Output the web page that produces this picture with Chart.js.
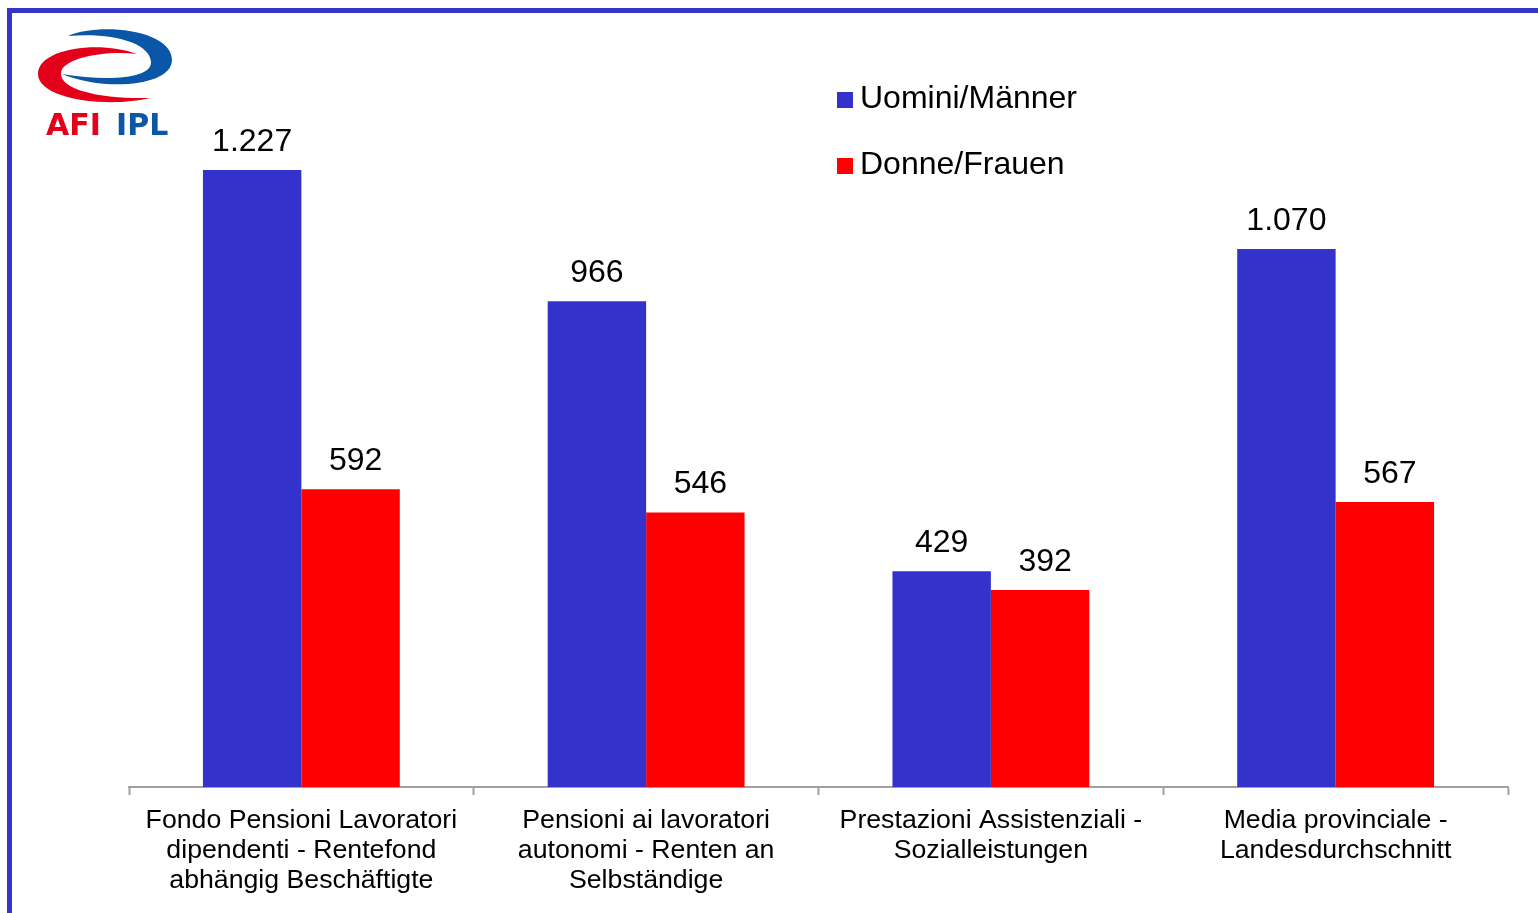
<!DOCTYPE html>
<html>
<head>
<meta charset="utf-8">
<script src="https://cdn.jsdelivr.net/npm/chart.js@4.4.0/dist/chart.umd.min.js"></script>
<style>
  html, body { margin: 0; padding: 0; background: #ffffff; overflow: hidden; }
  #wrap { position: relative; width: 1538px; height: 913px; }
  canvas { position: absolute; left: 0; top: 0; }
</style>
</head>
<body>
<div id="wrap"><canvas id="c" width="1538" height="913"></canvas></div>
<script>
// ---- DATA ----
const categories = [
  ["Fondo Pensioni Lavoratori", "dipendenti - Rentefond", "abhängig Beschäftigte"],
  ["Pensioni ai lavoratori", "autonomi - Renten an", "Selbständige"],
  ["Prestazioni Assistenziali -", "Sozialleistungen"],
  ["Media provinciale -", "Landesdurchschnitt"]
];
const seriesNames = ["Uomini/Männer", "Donne/Frauen"];
const menValues = [1227, 966, 429, 1070];
const womenValues = [592, 546, 392, 567];
const logoWords = ["AFI", "IPL"];

const BLUE = "#3333CC";
const RED = "#FF0000";
const FONT = "Arial, 'Liberation Sans', sans-serif";

function fmt(v) {
  const s = String(Math.round(v));
  return s.replace(/\B(?=(\d{3})+(?!\d))/g, ".");
}

const framePlugin = {
  id: "frame",
  beforeDraw(chart) {
    const ctx = chart.ctx;
    ctx.save();
    ctx.fillStyle = "#ffffff";
    ctx.fillRect(0, 0, chart.width, chart.height);
    ctx.fillStyle = "#3535CC";
    ctx.fillRect(7, 8, chart.width - 7, 5);
    ctx.fillRect(7, 8, 5, chart.height - 8);
    ctx.restore();
  },
  afterDraw(chart) {
    const ctx = chart.ctx;
    ctx.save();
    // logo swooshes
    ctx.fillStyle = "#E4001B";
    ctx.beginPath();
    ctx.moveTo(137, 54);
    ctx.bezierCurveTo(100, 40, 38, 48, 38, 74);
    ctx.bezierCurveTo(38, 100, 110, 108, 150, 98);
    ctx.bezierCurveTo(100, 99, 60, 90, 61, 73);
    ctx.bezierCurveTo(62, 58, 105, 50, 137, 54);
    ctx.closePath();
    ctx.fill();
    ctx.fillStyle = "#0B57A7";
    ctx.beginPath();
    ctx.moveTo(68, 36);
    ctx.bezierCurveTo(100, 22, 172, 30, 172, 60);
    ctx.bezierCurveTo(172, 86, 105, 92, 62, 74);
    ctx.bezierCurveTo(110, 82, 152, 78, 151, 62);
    ctx.bezierCurveTo(150, 42, 110, 32, 68, 36);
    ctx.closePath();
    ctx.fill();
    ctx.font = "bold 30px 'DejaVu Sans', sans-serif";
    ctx.textBaseline = "alphabetic";
    ctx.textAlign = "left";
    ctx.fillStyle = "#E4001B";
    ctx.fillText(logoWords[0], 46, 135);
    ctx.fillStyle = "#0B57A7";
    ctx.fillText(logoWords[1], 116, 135);

    // legend
    const items = chart.data.datasets;
    const rows = [108, 174];
    ctx.font = "32px " + FONT;
    items.forEach((ds, i) => {
      ctx.fillStyle = ds.backgroundColor;
      ctx.fillRect(837, rows[i] - 16, 16, 16);
      ctx.fillStyle = "#000000";
      ctx.fillText(ds.label, 860, rows[i]);
    });

    // data labels
    ctx.textAlign = "center";
    ctx.fillStyle = "#000000";
    ctx.font = "32px " + FONT;
    const shift = [0, 5];
    chart.data.datasets.forEach((ds, di) => {
      const meta = chart.getDatasetMeta(di);
      meta.data.forEach((el, i) => {
        ctx.fillText(fmt(ds.data[i]), el.x + shift[di], el.y - 19);
      });
    });
    ctx.restore();
  }
};

new Chart(document.getElementById("c"), {
  type: "bar",
  data: {
    labels: categories,
    datasets: [
      { label: seriesNames[0], data: menValues, backgroundColor: BLUE, borderWidth: 0 },
      { label: seriesNames[1], data: womenValues, backgroundColor: RED, borderWidth: 0 }
    ]
  },
  options: {
    responsive: false,
    devicePixelRatio: 1,
    animation: false,
    layout: { padding: { top: 83, left: 129, right: 30, bottom: 0 } },
    datasets: { bar: { categoryPercentage: 0.571, barPercentage: 1 } },
    plugins: {
      legend: { display: false },
      tooltip: { enabled: false },
      title: { display: false }
    },
    scales: {
      y: { display: false, min: 0, max: 1400 },
      x: {
        offset: true,
        grid: {
          offset: true,
          drawOnChartArea: false,
          drawTicks: true,
          tickLength: 8,
          tickWidth: 2,
          tickColor: "#A0A0A0"
        },
        border: { display: true, color: "#A0A0A0", width: 2 },
        ticks: {
          color: "#000000",
          font: { family: FONT, size: 26.7, lineHeight: 1.14 },
          padding: 10,
          maxRotation: 0,
          minRotation: 0,
          autoSkip: false
        },
        afterFit(scale) { scale.height = 126; }
      }
    }
  },
  plugins: [framePlugin]
});
</script>
</body>
</html>
